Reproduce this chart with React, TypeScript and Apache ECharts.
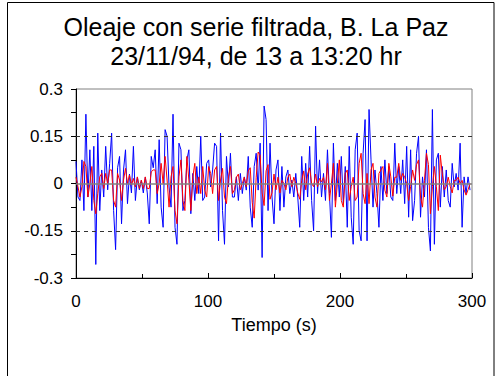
import React, { useEffect, useRef } from "react";
import * as echarts from "echarts";

const TITLE_LINE_1 = "Oleaje con serie filtrada, B. La Paz";
const TITLE_LINE_2 = "23/11/94, de 13 a 13:20 hr";
const X_NAME = "Tiempo (s)";
const SAMPLE_STEP = 1.5; // seconds between samples

// Raw wave record (blue), one value every 1.5 s
const blueValues = [
  0.07, -0.043, -0.054, 0.075, -0.086, 0.22, -0.043, 0.107, -0.086, 0.118,
  -0.257, 0.16, -0.086, 0.043, -0.043, 0.118, -0.02, 0.064, 0.16, -0.086,
  -0.21, 0.05, 0.086, -0.128, 0.043, 0.107, -0.064, 0.03, -0.03, 0.118,
  -0.054, 0.02, -0.02, 0.01, -0.03, 0.02, -0.03, -0.128, 0.086, 0.05,
  0.107, -0.064, 0.139, -0.075, -0.139, 0.171, 0.15, -0.011, -0.075, 0.22,
  -0.139, -0.193, 0.128, 0.107, -0.086, -0.054, 0.075, 0.107, -0.096, 0.032,
  -0.054, 0.054, -0.032, 0.15, -0.054, -0.043, 0.064, 0.075, -0.011, 0.043,
  0.128, 0.118, -0.182, 0.16, -0.086, -0.193, 0.086, -0.011, 0.096, -0.043,
  -0.043, 0.021, -0.054, 0.032, -0.032, 0.021, -0.021, 0.086, -0.075, -0.139,
  0.054, 0.096, -0.021, 0.128, -0.235, 0.246, 0.203, -0.086, 0.128, -0.043,
  -0.128, 0.043, 0.075, -0.086, 0.054, -0.075, 0.021, 0.043, -0.032, 0.011,
  -0.043, 0.032, -0.043, -0.139, 0.086, -0.054, 0.064, -0.043, 0.118, -0.054,
  -0.15, 0.182, -0.032, 0.075, -0.043, 0.032, -0.054, 0.107, -0.032, -0.171,
  0.128, -0.054, 0.064, -0.043, 0.086, -0.064, 0.054, -0.139, 0.118, -0.107,
  -0.193, 0.107, 0.16, -0.15, -0.182, 0.096, 0.203, -0.182, 0.235, 0.075,
  -0.075, 0.043, -0.032, -0.139, 0.054, -0.054, 0.075, -0.032, 0.054, -0.043,
  -0.054, 0.128, -0.032, 0.054, -0.032, 0.075, -0.064, 0.118, -0.107, 0.107,
  -0.118, -0.054, 0.096, 0.15, -0.107, 0.021, -0.043, 0.107, -0.139, -0.214,
  0.235, -0.193, 0.075, 0.096, -0.075, 0.054, -0.043, 0.043, -0.054, -0.075,
  0.064, -0.011, 0.032, -0.021, 0.128, -0.139, 0.021, -0.032, 0.021, -0.021,
];

// Filtered series (red), same sampling
const redValues = [
  0.02, -0.01, -0.043, -0.01, 0.07, 0.054, -0.043, 0, 0.054, -0.054,
  -0.096, -0.032, 0.021, 0.032, -0.016, 0.032, 0, 0.043, 0.043, -0.054,
  -0.075, 0.032, 0.011, -0.054, 0.011, 0.048, 0, 0.027, -0.005, 0.016,
  -0.011, 0.021, -0.016, 0.011, -0.016, 0.021, -0.016, -0.016, 0.037, 0.043,
  0.043, -0.032, 0, 0.064, 0, 0.086, 0.011, -0.075, 0.021, 0.054,
  -0.086, -0.128, 0.021, 0.075, -0.054, -0.086, 0.086, 0.011, -0.086, 0.021,
  0.064, -0.032, 0.021, -0.032, 0.054, -0.021, -0.043, 0.054, 0.032, -0.032,
  0.043, 0.054, -0.054, 0.011, 0.048, -0.043, -0.064, 0.021, 0.054, -0.032,
  -0.02, 0.02, 0.03, -0.02, 0, 0.02, -0.01, 0.04, 0.05, -0.06,
  -0.11, 0.02, 0.1, 0.09, -0.03, -0.07, 0.04, 0.06, -0.05, -0.03,
  0.03, -0.02, 0.02, -0.03, 0.01, 0, -0.02, 0.02, 0.03, -0.01,
  0.02, 0, -0.03, -0.05, 0.01, 0.04, -0.02, 0.03, 0.05, 0,
  -0.01, 0.03, -0.01, 0.016, 0.005, 0.02, -0.02, 0.064, -0.054, 0,
  0.064, -0.075, 0, 0.075, -0.054, -0.075, 0.032, 0.043, -0.054, -0.01,
  0.02, -0.054, -0.043, 0.064, 0.096, -0.032, -0.064, 0.032, -0.064, 0.043,
  0.064, -0.043, -0.075, 0.032, 0.043, 0.054, -0.021, -0.043, 0.064, 0.021,
  -0.04, 0.02, 0.02, 0.064, 0.01, 0.032, 0.02, 0, -0.054, -0.01,
  0.043, 0.01, 0.06, 0.075, -0.043, -0.075, 0.01, 0.096, 0.06, -0.096,
  -0.01, 0.054, -0.01, -0.086, 0.09, 0.03, -0.02, -0.01, 0.02, -0.01,
  -0.03, 0.01, 0.01, 0.02, 0, 0.01, -0.02, -0.037, -0.02, 0,
];

const Y_MIN = -0.3;
const Y_MAX = 0.3;
const Y_STEP = 0.15;
const X_MIN = 0;
const X_MAX = 300;
const X_STEP = 100;
const DASHED_LEVELS = [0.15, -0.15];

export default function App() {
  const ref = useRef<HTMLDivElement>(null);

  useEffect(() => {
    if (!ref.current) return;
    const chart = echarts.init(ref.current, null, { renderer: "svg" });
    const blueData = blueValues.map((v, i) => [i * SAMPLE_STEP, v]);
    const redData = redValues.map((v, i) => [i * SAMPLE_STEP, v]);
    const font = "Liberation Sans, Arial, sans-serif";

    chart.setOption({
      animation: false,
      backgroundColor: "#ffffff",
      graphic: [
        {
          type: "rect",
          shape: { x: 7.5, y: 2.5, width: 486.5, height: 400 },
          style: { fill: "none", stroke: "#000", lineWidth: 1 },
          silent: true,
          z: 0,
        },
        {
          type: "text",
          x: 256,
          y: 12,
          style: {
            text: TITLE_LINE_1 + "\n" + TITLE_LINE_2,
            fontSize: 25,
            lineHeight: 29,
            fontFamily: font,
            fill: "#000",
            align: "center",
            verticalAlign: "top",
          },
        },
      ],
      grid: {
        left: 76,
        right: 23,
        top: 89,
        height: 189,
        show: true,
        borderColor: "#808080",
        borderWidth: 1,
        backgroundColor: "transparent",
      },
      xAxis: {
        type: "value",
        min: X_MIN,
        max: X_MAX,
        interval: X_STEP,
        name: X_NAME,
        nameLocation: "middle",
        nameGap: 38,
        nameTextStyle: { fontSize: 18, fontFamily: font, color: "#000" },
        axisLine: { show: true, onZero: false, lineStyle: { color: "#000", width: 1 } },
        axisTick: { show: true, inside: true, length: 5, lineStyle: { color: "#000" } },
        minorTick: { show: true, splitNumber: 2, length: 4, lineStyle: { color: "#000" } },
        axisLabel: { fontSize: 17, fontFamily: font, color: "#000", margin: 15 },
        splitLine: { show: false },
      },
      yAxis: {
        type: "value",
        min: Y_MIN,
        max: Y_MAX,
        interval: Y_STEP,
        axisLine: { show: true, onZero: false, lineStyle: { color: "#000", width: 1 } },
        axisTick: { show: true, inside: false, length: 5, lineStyle: { color: "#000" } },
        minorTick: { show: true, splitNumber: 2, length: 5, lineStyle: { color: "#000" } },
        axisLabel: { fontSize: 17, fontFamily: font, color: "#000", margin: 13 },
        splitLine: { show: false },
      },
      series: [
        {
          type: "line",
          data: blueData,
          symbol: "none",
          lineStyle: { color: "#0000ff", width: 1 },
          itemStyle: { color: "#0000ff" },
          z: 2,
        },
        {
          type: "line",
          data: redData,
          symbol: "none",
          lineStyle: { color: "#ff0000", width: 1 },
          itemStyle: { color: "#ff0000" },
          z: 3,
          markLine: {
            silent: true,
            symbol: "none",
            label: { show: false },
            data: [
              ...DASHED_LEVELS.map((lv) => ({
                yAxis: lv,
                lineStyle: { color: "#333", type: [4, 4], width: 1 },
              })),
              { yAxis: 0, lineStyle: { color: "#808080", type: "solid", width: 1.5 } },
            ],
          },
        },
      ],
    });
    return () => chart.dispose();
  }, []);

  return (
    <div
      ref={ref}
      style={{ position: "absolute", left: 0, top: 0, width: 495, height: 376 }}
    />
  );
}
